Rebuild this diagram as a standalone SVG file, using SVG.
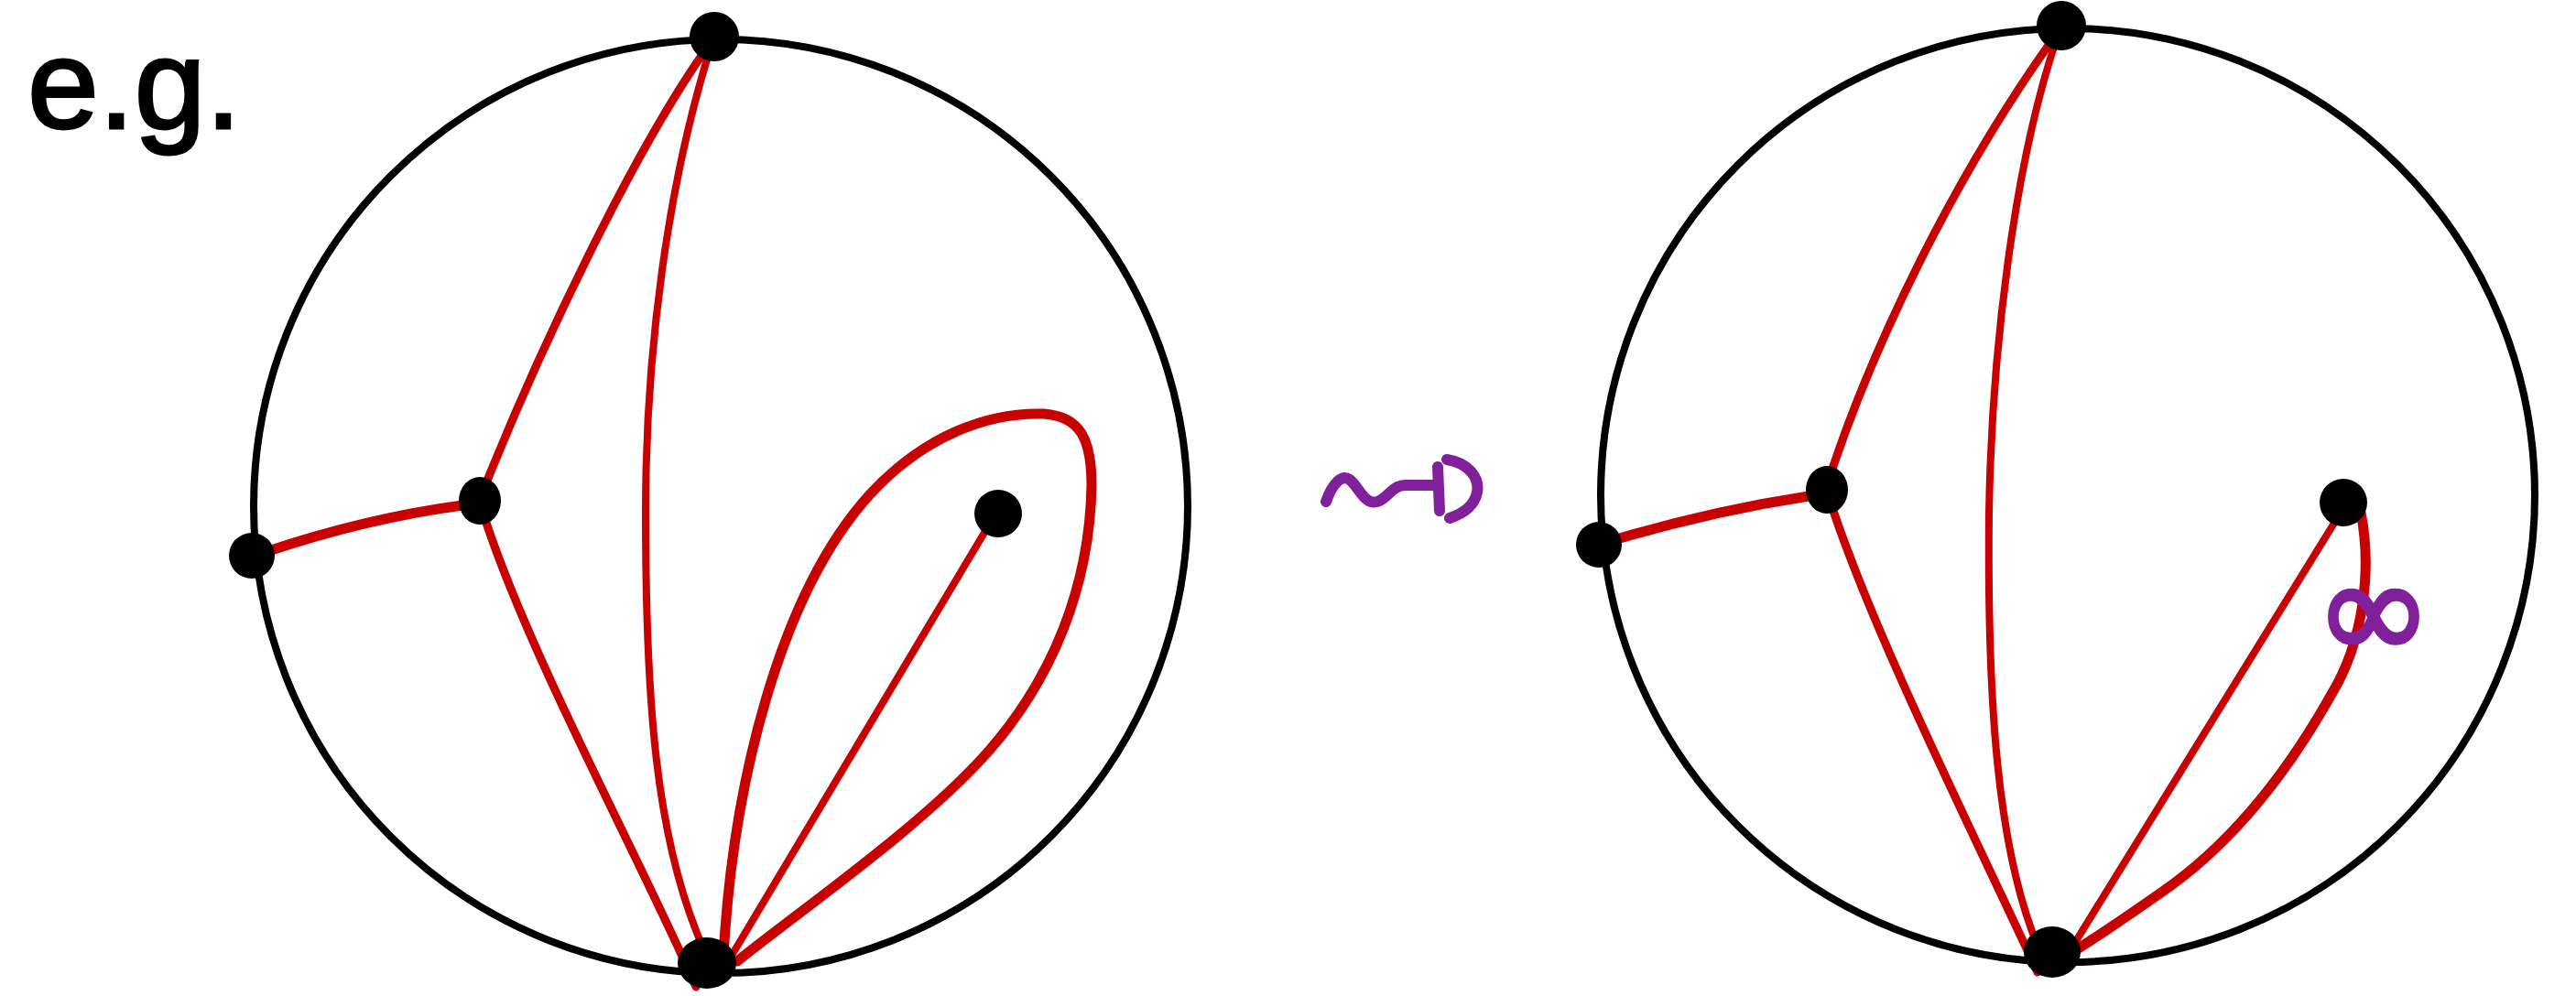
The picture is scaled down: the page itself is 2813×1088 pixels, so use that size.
<svg xmlns="http://www.w3.org/2000/svg" width="2813" height="1088" viewBox="0 0 2813 1088">
<style>
.disk{fill:none;stroke:#000;stroke-width:8}
.node{fill:#000}
.e{fill:none;stroke:#c80000;stroke-linecap:round;stroke-linejoin:round}
.thin{stroke-width:8}
.mid{stroke-width:9}
.thick{stroke-width:11}
.purple{fill:none;stroke:#80209a;stroke-width:12;stroke-linecap:round;stroke-linejoin:round}
.lbl{font-family:"DejaVu Sans","Liberation Sans",sans-serif}
</style>
<rect width="2813" height="1088" fill="#fff"/>
<text x="30" y="140" font-family="Liberation Sans, sans-serif" font-size="140" fill="#000" stroke="#000" stroke-width="3">e.g.</text>
<circle class="disk" cx="787" cy="553" r="510"/>
<circle class="disk" cx="2258" cy="541" r="510"/>
<g id="connectors">
<path class="e thick" d="M290,603 Q400,566 505,552"/>
<path class="e mid" d="M530,530 C590,380 690,170 768,58"/>
<path class="e mid" d="M530,568 C580,720 700,940 760,1078"/>
<path class="e thin" d="M775,55 C730,200 705,380 705,560 C705,760 715,920 770,1040"/>
<path class="e thick" d="M790,1045 C800,860 850,650 950,540 C1010,475 1080,450 1140,452 C1180,455 1192,480 1192,530 C1190,640 1150,740 1080,820 C1010,900 880,990 805,1050"/>
<path class="e thin" d="M1085,565 L800,1042"/>
<path class="e thick" d="M1762,590 Q1870,558 1975,542"/>
<path class="e mid" d="M2000,515 C2045,380 2130,200 2240,45"/>
<path class="e mid" d="M2002,558 C2050,700 2150,900 2225,1062"/>
<path class="e thin" d="M2245,45 C2200,180 2175,380 2172,560 C2170,760 2180,930 2228,1040"/>
<path class="e thin" d="M2556,560 L2262,1036"/>
<path class="e thick" d="M2578,560 C2590,620 2582,700 2545,760 C2500,840 2440,920 2360,975 C2310,1010 2280,1030 2255,1045"/>
</g>
<g id="n-top-1"><circle class="node" cx="780" cy="40" r="27"/></g>
<g id="n-bottom-1"><ellipse class="node" cx="772" cy="1052" rx="32" ry="28"/></g>
<g id="n-left-1"><circle class="node" cx="275" cy="607" r="25"/></g>
<g id="n-junction-1"><ellipse class="node" cx="524" cy="547" rx="23" ry="26"/></g>
<g id="n-inner-1"><circle class="node" cx="1090" cy="561" r="26"/></g>
<g id="n-top-2"><circle class="node" cx="2251" cy="28" r="27"/></g>
<g id="n-bottom-2"><ellipse class="node" cx="2241" cy="1040" rx="31" ry="28"/></g>
<g id="n-left-2"><circle class="node" cx="1746" cy="595" r="25"/></g>
<g id="n-junction-2"><ellipse class="node" cx="1995" cy="535" rx="23" ry="26"/></g>
<g id="n-inner-2"><circle class="node" cx="2559" cy="549" r="26"/></g>
<g id="arrow">
<path class="purple" d="M1448,548 C1455,528 1465,518 1474,524 C1484,532 1490,552 1504,548 C1515,545 1520,530 1535,530 L1570,530"/>
<path class="purple" d="M1570,510 L1572,558"/>
<path class="purple" d="M1580,502 C1604,506 1616,522 1613,538 C1610,552 1598,561 1583,566"/>
</g>
<text class="lbl" x="2592" y="720" font-size="155" text-anchor="middle" fill="#80209a" stroke="#80209a" stroke-width="4">∞</text>
</svg>
